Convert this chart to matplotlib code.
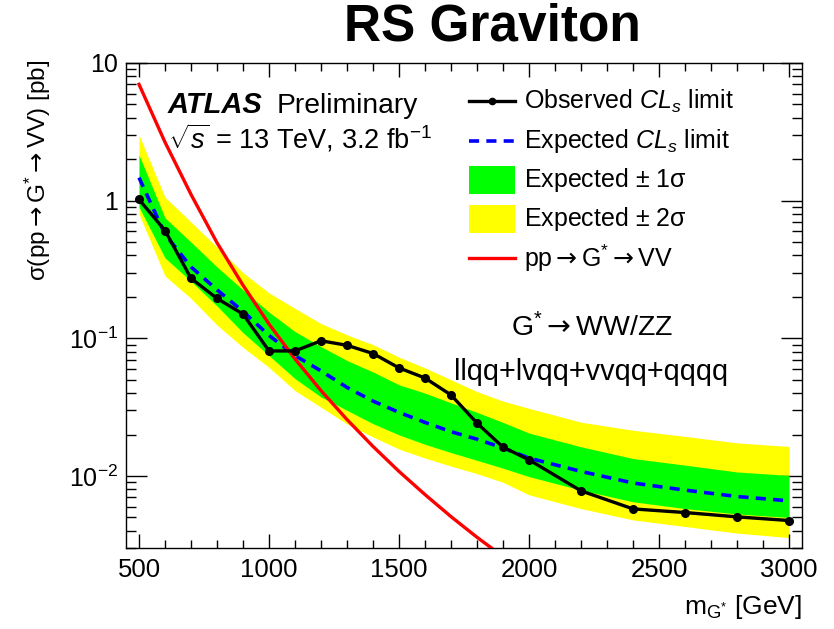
import matplotlib
matplotlib.use("Agg")
import matplotlib.pyplot as plt
import numpy as np
from matplotlib.ticker import FixedLocator, FixedFormatter, LogLocator, NullFormatter, MultipleLocator
from matplotlib.patches import Rectangle
from matplotlib.lines import Line2D

plt.rcParams['font.family'] = ['Liberation Sans', 'DejaVu Sans']
plt.rcParams['mathtext.fontset'] = 'custom'
plt.rcParams['mathtext.rm'] = 'Liberation Sans'
plt.rcParams['mathtext.it'] = 'Liberation Sans:italic'
plt.rcParams['mathtext.bf'] = 'Liberation Sans:bold'
plt.rcParams['mathtext.sf'] = 'DejaVu Sans'

# ---------------- data ----------------
mass = [500, 600, 700, 800, 900, 1000, 1100, 1200, 1300, 1400, 1500,
        1600, 1700, 1800, 1900, 2000, 2200, 2400, 2600, 2800, 3000]
observed = [1.02, 0.607, 0.273, 0.195, 0.150, 0.081, 0.081, 0.096, 0.089, 0.0776, 0.061,
            0.0515, 0.0388, 0.0242, 0.0162, 0.0131, 0.0078, 0.00577, 0.00543, 0.00505, 0.00475]
expected = [1.47, 0.57, 0.33, 0.225, 0.157, 0.105, 0.075, 0.058, 0.044, 0.035, 0.029,
            0.0245, 0.021, 0.0185, 0.016, 0.0135, 0.0108, 0.0089, 0.0079, 0.0071, 0.0066]
plus1 = [2.15, 0.75, 0.50, 0.33, 0.225, 0.155, 0.112, 0.087, 0.069, 0.057, 0.046,
         0.040, 0.034, 0.029, 0.0245, 0.0205, 0.0163, 0.0134, 0.0120, 0.0107, 0.0101]
minus1 = [0.90, 0.384, 0.26, 0.172, 0.110, 0.075, 0.051, 0.0375, 0.030, 0.024, 0.0199,
          0.0170, 0.0148, 0.0130, 0.0114, 0.0099, 0.0079, 0.0065, 0.0058, 0.0053, 0.0050]
plus2 = [3.0, 1.06, 0.70, 0.46, 0.30, 0.214, 0.165, 0.128, 0.106, 0.090, 0.073,
         0.061, 0.050, 0.041, 0.035, 0.031, 0.0246, 0.0215, 0.0194, 0.0174, 0.0164]
minus2 = [0.80, 0.284, 0.195, 0.125, 0.086, 0.0615, 0.0417, 0.0316, 0.0239, 0.0192, 0.0157,
          0.0135, 0.0118, 0.0104, 0.0090, 0.0073, 0.0058, 0.0048, 0.0043, 0.00385, 0.00357]
theory_mass = [500, 600, 700, 800, 900, 1000, 1100, 1200, 1300, 1400, 1500, 1600, 1700, 1800, 1900]
theory = [7.0, 2.66, 1.11, 0.495, 0.243, 0.127, 0.0708, 0.0417, 0.0257, 0.0164, 0.0108,
          0.00733, 0.00507, 0.00359, 0.0026]

ytick_vals = [0.01, 0.1, 1, 10]
ytick_labels = [r'$10^{-2}$', r'$10^{-1}$', '1', '10']
xtick_vals = [500, 1000, 1500, 2000, 2500, 3000]
xtick_labels = ['500', '1000', '1500', '2000', '2500', '3000']

ARR = r'$\mathsf{\rightarrow}$'
legend_labels = [r'Observed $\mathit{CL_s}$ limit', r'Expected $\mathit{CL_s}$ limit',
                 r'Expected $\pm$ 1σ', r'Expected $\pm$ 2σ', 'pp' + ARR + r'G$^{*}$' + ARR + 'VV']

# ---------------- figure ----------------
W, H = 834, 629
fig = plt.figure(figsize=(W / 100, H / 100), dpi=100)
L, R, T, B = 126, 802, 63, 548
ax = fig.add_axes([L / W, 1 - B / H, (R - L) / W, (B - T) / H])

GREEN = (0, 1, 0)
YELLOW = (1, 1, 0)
DASH = (0, (2.8, 2.0))

ax.fill_between(mass, minus2, plus2, color=YELLOW, lw=0, zorder=1)
ax.fill_between(mass, minus1, plus1, color=GREEN, lw=0, zorder=2)
ax.plot(mass, expected, color=(0, 0, 1), lw=2.6, ls=DASH, zorder=3)
ax.plot(theory_mass, theory, color=(1, 0, 0), lw=2.4, zorder=4, clip_on=True)
ax.plot(mass, observed, color='black', lw=2.4, marker='o', ms=5.5, zorder=5)

ax.set_yscale('log')
ax.set_xlim(450, 3050)
ax.set_ylim(0.003, 10)

ax.xaxis.set_major_locator(FixedLocator(xtick_vals))
ax.xaxis.set_major_formatter(FixedFormatter(xtick_labels))
ax.xaxis.set_minor_locator(MultipleLocator(100))
ax.yaxis.set_major_locator(FixedLocator(ytick_vals))
ax.yaxis.set_major_formatter(FixedFormatter(ytick_labels))
ax.yaxis.set_minor_locator(LogLocator(base=10, subs=np.arange(2, 10)))
ax.yaxis.set_minor_formatter(NullFormatter())

ax.tick_params(axis='both', which='both', direction='in', top=True, right=True, width=1.0, colors='black')
ax.tick_params(axis='x', which='major', length=10, pad=7, labelsize=18.5)
ax.tick_params(axis='x', which='minor', length=5.5)
ax.tick_params(axis='y', which='major', length=15, pad=6, labelsize=18)
ax.tick_params(axis='y', which='minor', length=7)
for s in ax.spines.values():
    s.set_linewidth(1.0)

# axis labels
fig.text(38 / W, 1 - 60 / H, r'σ(pp' + ARR + r'G$^{*}$' + ARR + 'VV) [pb]', rotation=90,
         ha='center', va='top', fontsize=17.5)
fig.text(802 / W, 1 - 607 / H, r'm$_{\mathrm{G^{*}}}$ [GeV]', ha='right', va='center', fontsize=19)

# title
fig.text(492 / W, 1 - 27 / H, 'RS Graviton', ha='center', va='center', fontsize=37, fontweight='bold')

# ATLAS label
fig.text(168 / W, 1 - 113 / H, 'ATLAS', ha='left', va='baseline', fontsize=21,
         fontweight='bold', fontstyle='italic')
fig.text(277 / W, 1 - 113 / H, 'Preliminary', ha='left', va='baseline', fontsize=20.3)
fig.text(168 / W, 1 - 148 / H, r'$\sqrt{s}$ = 13 TeV, 3.2 fb$^{-1}$', ha='left', va='baseline', fontsize=19.5)

# channel text
fig.text(592 / W, 1 - 328 / H, r'G$^{*}$' + ARR + 'WW/ZZ', ha='center', va='center', fontsize=20.5)
fig.text(591 / W, 1 - 372 / H, 'llqq+lvqq+vvqq+qqqq', ha='center', va='center', fontsize=20.8)

# legend (manual, in figure pixel coordinates)
def fx(px):
    return px / W

def fy(py):
    return 1 - py / H

x0, x1 = 469, 515
rows = [101, 141, 180, 219, 258]
fig.add_artist(Line2D([fx(x0), fx(x1)], [fy(rows[0])] * 2, color='black', lw=2.4))
fig.add_artist(Line2D([fx((x0 + x1) / 2)], [fy(rows[0])], color='black', marker='o', ms=4.5))
fig.add_artist(Line2D([fx(x0), fx(x1)], [fy(rows[1])] * 2, color=(0, 0, 1), lw=2.6, ls=DASH))
fig.add_artist(Rectangle((fx(x0), fy(rows[2] + 14)), fx(x1) - fx(x0), (28 / H), color=GREEN, lw=0))
fig.add_artist(Rectangle((fx(x0), fy(rows[3] + 14)), fx(x1) - fx(x0), (28 / H), color=YELLOW, lw=0))
fig.add_artist(Line2D([fx(x0), fx(x1)], [fy(rows[4])] * 2, color=(1, 0, 0), lw=2.4))
for r, lab in zip(rows, legend_labels):
    fig.text(fx(524), fy(r), lab, ha='left', va='center', fontsize=18)

fig.savefig('out.png', dpi=100)
